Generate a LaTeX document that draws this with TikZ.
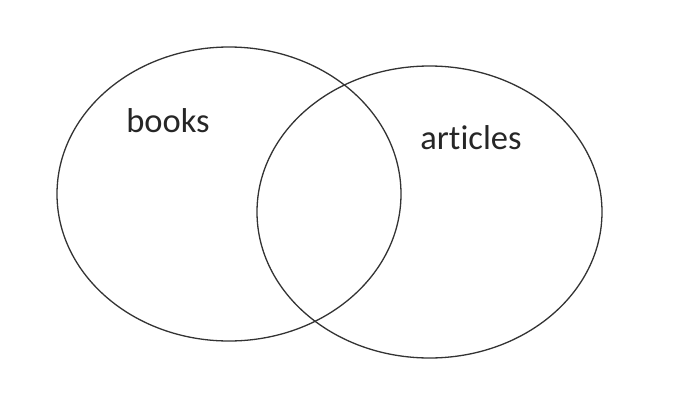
\documentclass[tikz,border=0pt]{standalone}
\usepackage{fontspec}
\usetikzlibrary{shapes.geometric}
\setmainfont[Ligatures={NoCommon,NoRare,NoContextual}]{Carlito}
\begin{document}
\begin{tikzpicture}[x=1pt,y=-1pt,
  setring/.style={draw=black!80,line width=1.3pt},
  lbl/.style={font=\fontsize{34.5}{40}\selectfont,text=black!85,inner sep=0pt}]
\useasboundingbox (0,0) rectangle (686,418);
\node[setring,ellipse,minimum width=344pt,minimum height=294pt,inner sep=0pt] (books) at (229,194) {};
\node[setring,ellipse,minimum width=345pt,minimum height=292pt,inner sep=0pt] (articles) at (429.5,212) {};
\node[lbl] (bl) at (168,121) {books};
\node[lbl] (al) at (471,138) {articles};
\end{tikzpicture}
\end{document}
